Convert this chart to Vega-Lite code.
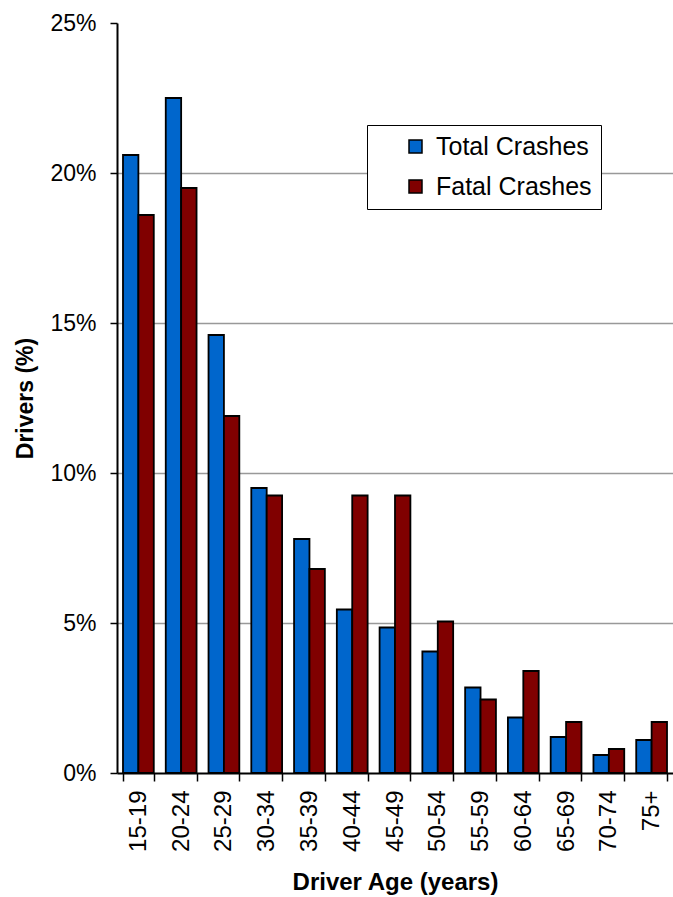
{
  "$schema": "https://vega.github.io/schema/vega-lite/v6.json",
  "width": 556,
  "height": 750,
  "autosize": {"type": "none"},
  "padding": {"left": 117, "top": 23, "right": 0, "bottom": 124},
  "background": "white",
  "data": {
    "values": [
      {"age": "15-19", "series": "Total Crashes", "value": 20.6},
      {"age": "15-19", "series": "Fatal Crashes", "value": 18.6},
      {"age": "20-24", "series": "Total Crashes", "value": 22.5},
      {"age": "20-24", "series": "Fatal Crashes", "value": 19.5},
      {"age": "25-29", "series": "Total Crashes", "value": 14.6},
      {"age": "25-29", "series": "Fatal Crashes", "value": 11.9},
      {"age": "30-34", "series": "Total Crashes", "value": 9.5},
      {"age": "30-34", "series": "Fatal Crashes", "value": 9.25},
      {"age": "35-39", "series": "Total Crashes", "value": 7.8},
      {"age": "35-39", "series": "Fatal Crashes", "value": 6.8},
      {"age": "40-44", "series": "Total Crashes", "value": 5.45},
      {"age": "40-44", "series": "Fatal Crashes", "value": 9.25},
      {"age": "45-49", "series": "Total Crashes", "value": 4.85},
      {"age": "45-49", "series": "Fatal Crashes", "value": 9.25},
      {"age": "50-54", "series": "Total Crashes", "value": 4.05},
      {"age": "50-54", "series": "Fatal Crashes", "value": 5.05},
      {"age": "55-59", "series": "Total Crashes", "value": 2.85},
      {"age": "55-59", "series": "Fatal Crashes", "value": 2.45},
      {"age": "60-64", "series": "Total Crashes", "value": 1.85},
      {"age": "60-64", "series": "Fatal Crashes", "value": 3.4},
      {"age": "65-69", "series": "Total Crashes", "value": 1.2},
      {"age": "65-69", "series": "Fatal Crashes", "value": 1.7},
      {"age": "70-74", "series": "Total Crashes", "value": 0.6},
      {"age": "70-74", "series": "Fatal Crashes", "value": 0.8},
      {"age": "75+", "series": "Total Crashes", "value": 1.1},
      {"age": "75+", "series": "Fatal Crashes", "value": 1.7}
    ]
  },
  "mark": {"type": "bar", "stroke": "black", "strokeWidth": 1.8},
  "encoding": {
    "x": {
      "field": "age",
      "type": "nominal",
      "sort": null,
      "scale": {"paddingInner": 0.28, "paddingOuter": 0.14},
      "axis": {
        "title": "Driver Age (years)",
        "titleFont": "Liberation Sans",
        "titleFontSize": 24,
        "titleFontWeight": "bold",
        "titleColor": "black",
        "titlePadding": 19,
        "labelAngle": -90,
        "labelFont": "Liberation Sans",
        "labelFontSize": 24,
        "labelColor": "black",
        "labelPadding": 9,
        "tickBand": "extent",
        "tickColor": "black",
        "tickSize": 8,
        "tickWidth": 1.5,
        "domainColor": "black",
        "domainWidth": 2,
        "grid": false
      }
    },
    "xOffset": {
      "field": "series",
      "type": "nominal",
      "sort": ["Total Crashes", "Fatal Crashes"],
      "scale": {"paddingInner": 0, "paddingOuter": 0}
    },
    "y": {
      "field": "value",
      "type": "quantitative",
      "scale": {"domain": [0, 25], "nice": false},
      "axis": {
        "title": "Drivers (%)",
        "titleFont": "Liberation Sans Narrow, Liberation Sans",
        "titleFontSize": 23,
        "titleFontWeight": "bold",
        "titleColor": "black",
        "titlePadding": 12,
        "values": [0, 5, 10, 15, 20, 25],
        "labelExpr": "datum.value + '%'",
        "labelFont": "Liberation Sans",
        "labelFontSize": 23,
        "labelColor": "black",
        "labelPadding": 14,
        "tickColor": "black",
        "tickSize": 7,
        "tickWidth": 1.5,
        "domainColor": "black",
        "domainWidth": 2,
        "grid": true,
        "gridColor": "#999999",
        "gridWidth": 1.5,
        "gridOpacity": {"condition": {"test": "datum.value == 0 || datum.value == 25", "value": 0}, "value": 1}
      }
    },
    "color": {
      "field": "series",
      "type": "nominal",
      "sort": ["Total Crashes", "Fatal Crashes"],
      "scale": {"domain": ["Total Crashes", "Fatal Crashes"], "range": ["#0066CC", "#800000"]},
      "legend": {
        "title": null,
        "orient": "none",
        "legendX": 250,
        "legendY": 102,
        "padding": 9,
        "strokeColor": "black",
        "fillColor": "white",
        "symbolType": "square",
        "symbolSize": 169,
        "symbolStrokeColor": "black",
        "symbolStrokeWidth": 1.5,
        "symbolOpacity": 1,
        "symbolOffset": 27,
        "labelOffset": 8,
        "labelFont": "Liberation Sans",
        "labelFontSize": 25,
        "labelColor": "black",
        "rowPadding": 14
      }
    }
  },
  "config": {
    "view": {"stroke": null},
    "axis": {"labelOverlap": false}
  }
}
